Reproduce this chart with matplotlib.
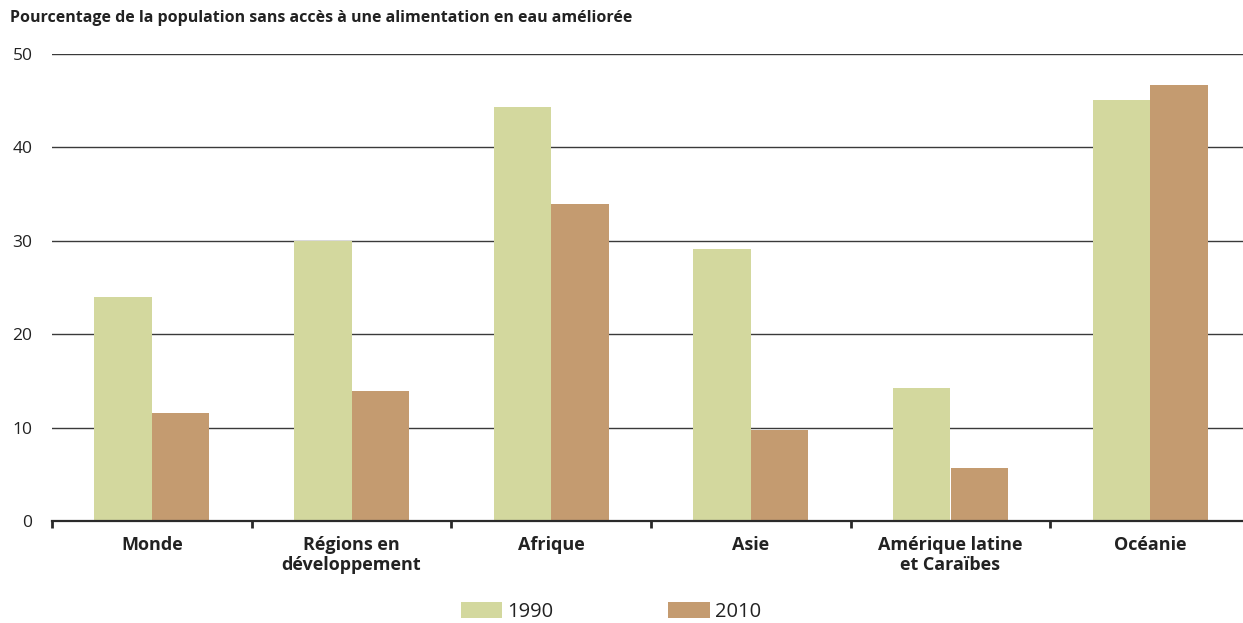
import matplotlib
matplotlib.use("Agg")
import matplotlib.pyplot as plt
import numpy as np

categories = ["Monde", "Régions en\ndéveloppement", "Afrique", "Asie",
              "Amérique latine\net Caraïbes", "Océanie"]
series_names = ["1990", "2010"]
values_1990 = [24.0, 30.0, 44.3, 29.1, 14.2, 45.1]
values_2010 = [11.6, 13.9, 33.9, 9.7, 5.7, 46.7]
yticks = [0, 10, 20, 30, 40, 50]
title = "Pourcentage de la population sans accès à une alimentation en eau améliorée"

c1990 = "#d3d89e"
c2010 = "#c49b70"

plt.rcParams['font.family'] = ['Open Sans', 'DejaVu Sans']

W, H = 1243, 623
fig = plt.figure(figsize=(W/100, H/100), dpi=100)
ax = fig.add_axes([52/W, 1-521/H, 1198/W, (521-54)/H])

x = np.arange(len(categories))
bw = 0.288
ax.bar(x - bw/2, values_1990, width=bw, color=c1990, label=series_names[0], zorder=3)
ax.bar(x + bw/2, values_2010, width=bw, color=c2010, label=series_names[1], zorder=3)

ax.set_xlim(-0.5, len(categories) - 0.5)
ax.set_ylim(0, 50)

for y in yticks[1:]:
    ax.axhline(y, color="#3a3a3a", lw=1.0, zorder=1)

for s in ["top", "right", "left"]:
    ax.spines[s].set_visible(False)
ax.spines["bottom"].set_color("#2a2a2a")
ax.spines["bottom"].set_linewidth(1.6)
ax.spines["bottom"].set_zorder(4)

ax.set_yticks(yticks)
ax.set_yticklabels([str(v) for v in yticks], fontsize=12.5, color="#222222")
ax.tick_params(axis="y", length=0, pad=14)

ax.set_xticks(np.arange(-0.5, len(categories) + 0.5, 1.0))
ax.set_xticklabels([])
ax.tick_params(axis="x", direction="out", length=5, width=2, color="#2a2a2a")

for i, c in enumerate(categories):
    ax.text(i, -1.6, c, ha="center", va="top", fontsize=13, fontweight="bold",
            color="#222222", linespacing=1.12)

fig.text(10/W, 1-18/H, title, ha="left", va="center", fontsize=11.5,
         fontweight="bold", color="#222222")

handles, labels = ax.get_legend_handles_labels()
fig.legend(handles, labels, loc="center", bbox_to_anchor=(611/W, 1-612/H),
           ncol=2, frameon=False, fontsize=14.5, handlelength=2.05,
           handleheight=0.85, handletextpad=0.25, columnspacing=5.7,
           borderpad=0, labelcolor="#222222")

fig.savefig("out.png", dpi=100)
